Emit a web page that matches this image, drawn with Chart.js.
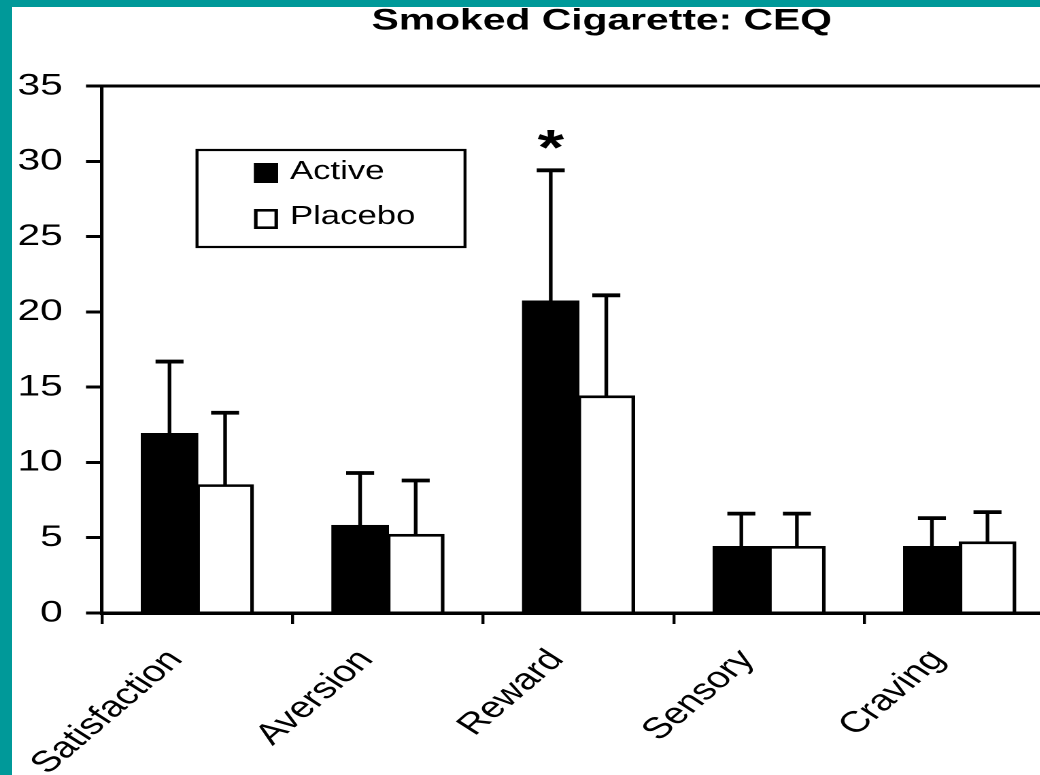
<!DOCTYPE html>
<html>
<head>
<meta charset="utf-8">
<script src="https://cdn.jsdelivr.net/npm/chart.js@4.4.1/dist/chart.umd.min.js"></script>
<style>
  html,body{margin:0;padding:0;}
  body{width:1040px;height:775px;overflow:hidden;position:relative;background:#fff;}
  #wrap{position:absolute;left:0;top:0;height:775px;transform-origin:0 0;}
  .teal{position:absolute;background:#009999;z-index:2;}
</style>
</head>
<body>
<div id="wrap"><canvas id="chart"></canvas></div>
<div class="teal" style="left:0;top:0;width:12px;height:775px"></div>
<div class="teal" style="left:0;top:0;width:1040px;height:7px"></div>
<script>
// ── data ──
var categories=["Satisfaction","Aversion","Reward","Sensory","Craving"];
var activeMean=[11.9,5.8,20.7,4.4,4.4];
var activeErr=[4.8,3.5,8.7,2.2,1.9];
var placeboMean=[8.5,5.2,14.4,4.4,4.7];
var placeboErr=[4.8,3.6,6.7,2.2,2.0];
var sigMarks=["","","*","",""];
var yTicks=[0,5,10,15,20,25,30,35];

// the source picture is stretched sideways, so the chart is drawn narrow and scaled
var SX=1.36;
var W_LOG=885;
function px(v){return v/SX;}

var FONT="'Liberation Sans', Arial, sans-serif";
Chart.defaults.font.family=FONT;
Chart.defaults.color="#000";

var wrap=document.getElementById("wrap");
wrap.style.width=W_LOG+"px";
wrap.style.transform="scaleX("+SX+")";

// error bars (upward only) + significance marks
var errorBars={
  id:"errorBars",
  afterDatasetsDraw:function(chart){
    var ctx=chart.ctx,y=chart.scales.y;
    chart.data.datasets.forEach(function(ds,i){
      var meta=chart.getDatasetMeta(i);
      meta.data.forEach(function(bar,j){
        var top=y.getPixelForValue(ds.data[j]+ds.errors[j]);
        ctx.save();
        ctx.strokeStyle="#000";
        ctx.lineWidth=2.7;
        ctx.beginPath();ctx.moveTo(bar.x,bar.y);ctx.lineTo(bar.x,top);ctx.stroke();
        ctx.lineWidth=3.8;
        ctx.beginPath();ctx.moveTo(bar.x-px(14),top);ctx.lineTo(bar.x+px(14),top);ctx.stroke();
        if(ds.marks&&ds.marks[j]){
          ctx.fillStyle="#000";
          ctx.font="bold 50px "+FONT;
          ctx.textAlign="center";
          ctx.textBaseline="alphabetic";
          ctx.fillText(ds.marks[j],bar.x,top-6);
        }
        ctx.restore();
      });
    });
  }
};

// frame top line + boxed legend inside the plot
var frameLegend={
  id:"frameLegend",
  afterDraw:function(chart){
    var ctx=chart.ctx,a=chart.chartArea;
    ctx.save();
    ctx.strokeStyle="#000";
    ctx.lineWidth=3;
    ctx.beginPath();ctx.moveTo(a.left,a.top);ctx.lineTo(a.right,a.top);ctx.stroke();

    var bx=px(197),by=150,bw=px(268),bh=97;
    ctx.fillStyle="#fff";
    ctx.fillRect(bx,by,bw,bh);
    ctx.lineWidth=2.2;
    ctx.strokeRect(bx,by,bw,bh);
    chart.data.datasets.forEach(function(ds,i){
      var sy=163+i*46,sx=px(254);
      ctx.fillStyle=ds.backgroundColor;
      ctx.fillRect(sx,sy,px(24),20);
      ctx.lineWidth=2.6;
      ctx.strokeStyle=ds.borderColor;
      ctx.strokeRect(sx+1.3,sy+1.3,px(24)-2.6,20-2.6);
      ctx.fillStyle="#000";
      ctx.font="25.5px "+FONT;
      ctx.textAlign="left";
      ctx.textBaseline="middle";
      ctx.fillText(ds.label,px(290),172+i*45);
    });
    ctx.restore();
  }
};

new Chart(document.getElementById("chart"),{
  type:"bar",
  data:{
    labels:categories,
    datasets:[
      {label:"Active",data:activeMean,errors:activeErr,marks:sigMarks,
       backgroundColor:"#000",borderColor:"#000",borderWidth:2.6,inflateAmount:0.8},
      {label:"Placebo",data:placeboMean,errors:placeboErr,
       backgroundColor:"#fff",borderColor:"#000",borderWidth:2.7,inflateAmount:0.8}
    ]
  },
  options:{
    responsive:true,
    maintainAspectRatio:false,
    animation:false,
    devicePixelRatio:2,
    datasets:{bar:{categoryPercentage:0.583,barPercentage:1.0}},
    layout:{padding:0},
    plugins:{
      legend:{display:false},
      tooltip:{enabled:false},
      title:{
        display:true,
        text:"Smoked Cigarette: CEQ",
        color:"#000",
        font:{family:FONT,size:30,weight:"bold"},
        padding:{top:3,bottom:47}
      }
    },
    scales:{
      x:{
        grid:{drawOnChartArea:false,drawTicks:true,tickLength:11,lineWidth:2.2,color:"#000"},
        border:{display:true,color:"#000",width:3.5},
        ticks:{color:"#000",font:{size:29.5},minRotation:49,maxRotation:49,padding:19,labelOffset:-16,autoSkip:false},
        afterFit:function(s){s.height=162;}
      },
      y:{
        min:0,max:35,
        afterBuildTicks:function(s){s.ticks=yTicks.map(function(v){return{value:v};});},
        grid:{drawOnChartArea:false,drawTicks:true,tickLength:px(16),lineWidth:3,color:"#000"},
        border:{display:true,color:"#000",width:2.6},
        ticks:{color:"#000",font:{size:30},padding:17},
        afterFit:function(s){s.width=px(102);}
      },
      yPad:{
        position:"right",
        grid:{display:false},
        border:{display:false},
        ticks:{display:false},
        afterFit:function(s){s.width=W_LOG-px(1055);}
      }
    }
  },
  plugins:[errorBars,frameLegend]
});
</script>
</body>
</html>
